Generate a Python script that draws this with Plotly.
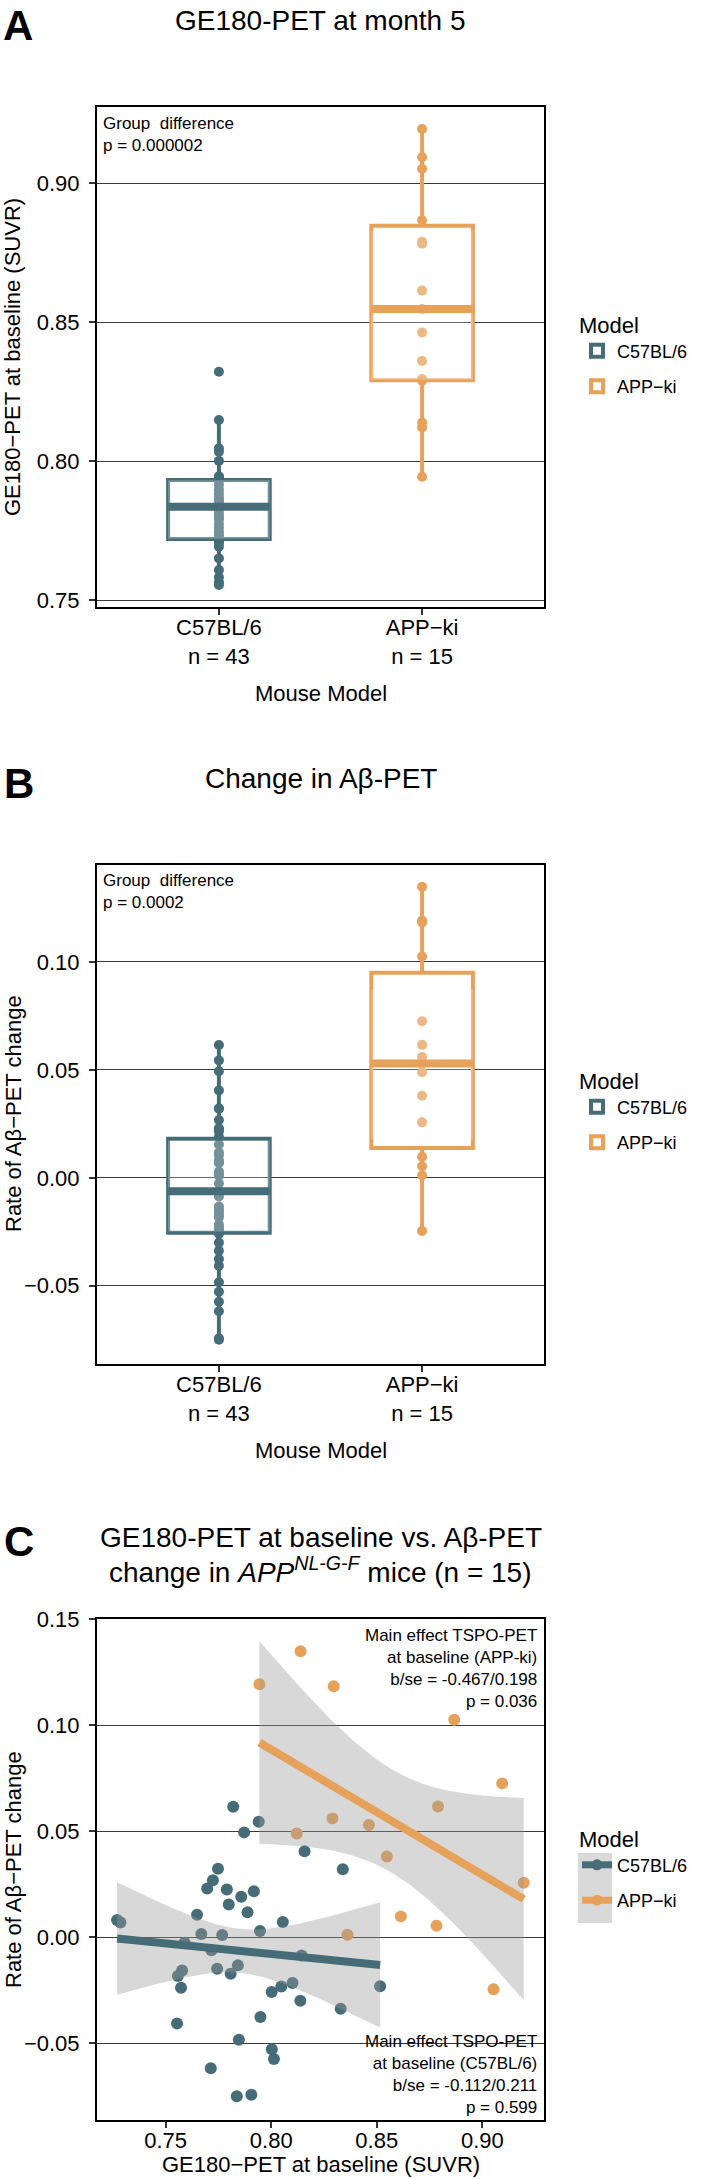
import numpy as np
import plotly.graph_objects as go

W, H = 709, 2179
FONT = "Liberation Sans, Arial, Helvetica, sans-serif"
TEAL = "#466d77"
ORANGE = "#e6a15b"
RIBBON = "rgba(153,153,153,0.38)"

# ---------------- data ----------------
models = ["C57BL/6", "APP\u2212ki"]
group_n = ["n = 43", "n = 15"]

# Panel A: GE180-PET (SUVR), C57BL/6
c57_tspo_month5 = [0.8322, 0.8148, 0.8046, 0.8034, 0.8001, 0.7946, 0.7942, 0.7940, 0.7938,
                   0.7936, 0.7933, 0.7930, 0.7915, 0.7898, 0.7884, 0.7870, 0.7862, 0.7855,
                   0.7850, 0.7845, 0.7840, 0.7836, 0.7830, 0.7822, 0.7810, 0.7800, 0.7790,
                   0.7775, 0.7760, 0.7745, 0.7733, 0.7724, 0.7718, 0.7716, 0.7714, 0.7710,
                   0.7705, 0.7692, 0.7650, 0.7608, 0.7582, 0.7564, 0.7554]

# APP-ki: GE180-PET at baseline and rate of Abeta-PET change (paired)
app_tspo = [0.7944, 0.8139, 0.8121, 0.8296, 0.8290, 0.8361, 0.8463, 0.8548, 0.8614,
            0.8783, 0.8790, 0.8867, 0.9053, 0.9094, 0.9196]
app_abeta_rate = [0.1192, 0.1348, 0.0489, 0.1183, 0.0560, 0.0011, 0.0529, 0.0380, 0.0098,
                  0.0054, 0.0616, 0.1025, -0.0246, 0.0725, 0.0257]

# C57BL/6: GE180-PET at baseline and rate of Abeta-PET change (paired, panel C / B)
c57_tspo_baseline = [0.7820, 0.7941, 0.7872, 0.7748, 0.7724, 0.7697, 0.7918, 0.7858, 0.7799,
                     0.7888, 0.7649, 0.8055, 0.7270, 0.7286, 0.7947, 0.7669, 0.7768, 0.8158,
                     0.8339, 0.7590, 0.7717, 0.8144, 0.7558, 0.7578, 0.7573, 0.7744, 0.7808,
                     0.7842, 0.8002, 0.8048, 0.8101, 0.8138, 0.8329, 0.8516, 0.7554, 0.7949,
                     0.7847, 0.8003, 0.8013, 0.7714, 0.7837, 0.7906, 0.7790]
c57_abeta_rate = [0.0615, 0.0544, 0.0494, 0.0322, 0.0268, 0.0229, 0.0216, 0.0190, 0.0154,
                  0.0117, 0.0106, 0.0072, 0.0081, 0.0069, 0.0029, 0.0015, 0.0010, 0.0405,
                  0.0320, -0.0026, -0.0062, -0.0086, -0.0183, -0.0157, -0.0239, -0.0149, -0.0172,
                  -0.0133, -0.0259, -0.0233, -0.0216, -0.0300, -0.0338, -0.0231, -0.0407, -0.0376,
                  -0.0484, -0.0528, -0.0574, -0.0618, -0.0750, -0.0743, 0.0225]

ticks_a = [0.75, 0.80, 0.85, 0.90]
ticks_b = [-0.05, 0.00, 0.05, 0.10]
ticks_cx = [0.75, 0.80, 0.85, 0.90]
ticks_cy = [-0.05, 0.00, 0.05, 0.10, 0.15]

t_crit = {41: 2.0195, 13: 2.1604}  # 95% t quantiles for lm CI


def fmt(v):
    s = f"{v:.2f}"
    return s.replace("-", "\u2212")


def px_x(p):
    return p / W


def px_y(p):
    return 1 - p / H


fig = go.Figure()

colors = [TEAL, ORANGE]
box_w = 0.5


def add_box_panel(ax, ay, values_list, legend_name):
    for i, (vals, col, name) in enumerate(zip(values_list, colors, models)):
        pos = i + 1
        vals = np.asarray(vals)
        fig.add_trace(go.Box(
            x=[pos] * len(vals), y=vals, xaxis=ax, yaxis=ay, width=box_w,
            line=dict(color=col, width=4), fillcolor="rgba(0,0,0,0)",
            boxpoints="outliers", marker=dict(opacity=0, size=1), whiskerwidth=0,
            name=name, legend=legend_name, legendgroup=legend_name + name,
            showlegend=True, hoverinfo="skip"))
    for i, (vals, col, name) in enumerate(zip(values_list, colors, models)):
        pos = i + 1
        vals = np.asarray(vals)
        fig.add_trace(go.Scatter(
            x=[pos] * len(vals), y=vals, xaxis=ax, yaxis=ay, mode="markers",
            marker=dict(size=10, color=col), showlegend=False, hoverinfo="skip"))
        q1, med, q3 = np.percentile(vals, [25, 50, 75])
        fig.add_trace(go.Scatter(
            x=[pos - box_w / 2, pos + box_w / 2, pos + box_w / 2, pos - box_w / 2, pos - box_w / 2],
            y=[q1, q1, q3, q3, q1], xaxis=ax, yaxis=ay, mode="lines", fill="toself",
            fillcolor="rgba(255,255,255,0.25)", line=dict(width=0),
            showlegend=False, hoverinfo="skip"))
        fig.add_trace(go.Scatter(
            x=[pos - box_w / 2, pos + box_w / 2], y=[med, med], xaxis=ax, yaxis=ay,
            mode="lines", line=dict(color=col, width=8), showlegend=False, hoverinfo="skip"))


add_box_panel("x", "y", [c57_tspo_month5, app_tspo], "legend")
add_box_panel("x2", "y2", [c57_abeta_rate, app_abeta_rate], "legend2")

# Panel C
groups = [(c57_tspo_baseline, c57_abeta_rate, TEAL, models[0]),
          (app_tspo, app_abeta_rate, ORANGE, models[1])]
for xs, ys, col, name in groups:
    fig.add_trace(go.Scatter(x=xs, y=ys, xaxis="x3", yaxis="y3", mode="markers",
                             marker=dict(size=12, color=col), showlegend=False,
                             hoverinfo="skip"))
fits = []
for xs, ys, col, name in groups:
    x = np.asarray(xs)
    y = np.asarray(ys)
    n = len(x)
    b1, b0 = np.polyfit(x, y, 1)
    grid = np.linspace(x.min(), x.max(), 80)
    yhat = b0 + b1 * grid
    resid = y - (b0 + b1 * x)
    s = np.sqrt(np.sum(resid ** 2) / (n - 2))
    sxx = np.sum((x - x.mean()) ** 2)
    se = s * np.sqrt(1 / n + (grid - x.mean()) ** 2 / sxx)
    t = t_crit[n - 2]
    lo, hi = yhat - t * se, yhat + t * se
    fits.append((grid, yhat, col))
    fig.add_trace(go.Scatter(x=np.concatenate([grid, grid[::-1]]),
                             y=np.concatenate([hi, lo[::-1]]),
                             xaxis="x3", yaxis="y3", mode="lines", fill="toself",
                             fillcolor=RIBBON, line=dict(width=0),
                             showlegend=False, hoverinfo="skip"))
for grid, yhat, col in fits:
    fig.add_trace(go.Scatter(x=grid, y=yhat, xaxis="x3", yaxis="y3", mode="lines",
                             line=dict(color=col, width=8), showlegend=False,
                             hoverinfo="skip"))
for xs, ys, col, name in groups:
    fig.add_trace(go.Scatter(x=[None], y=[None], xaxis="x3", yaxis="y3",
                             mode="lines+markers", line=dict(color=col, width=7),
                             marker=dict(size=11, color=col), name=name,
                             legend="legend3", legendgroup="c" + name, showlegend=True))

# ---------------- axes ----------------
XDOM = [px_x(97), px_x(544)]
axis_common = dict(showline=True, mirror=True, linecolor="black", linewidth=2,
                   ticks="outside", ticklen=6, tickwidth=2, tickcolor="#333333",
                   tickfont=dict(size=22, color="black", family=FONT), zeroline=False)
ygrid = dict(showgrid=True, gridcolor="#3a3a3a", gridwidth=1)

cat_text = [f"{m}<br>{n}" for m, n in zip(models, group_n)]

fig.update_layout(
    xaxis=dict(domain=XDOM, anchor="y", range=[0.4, 2.6], tickvals=[1, 2], ticktext=cat_text,
               showgrid=False, ticklabelstandoff=-6, **axis_common),
    yaxis=dict(domain=[px_y(607), px_y(107)], anchor="x", range=[0.7475, 0.9275],
               tickvals=ticks_a, ticktext=[fmt(v) for v in ticks_a], ticklabelstandoff=5,
               **ygrid, **axis_common),
    xaxis2=dict(domain=XDOM, anchor="y2", range=[0.4, 2.6], tickvals=[1, 2], ticktext=cat_text,
                showgrid=False, ticklabelstandoff=-6, **axis_common),
    yaxis2=dict(domain=[px_y(1363.5), px_y(865)], anchor="x2", range=[-0.0860, 0.1449],
                tickvals=ticks_b, ticktext=[fmt(v) for v in ticks_b], ticklabelstandoff=5,
                **ygrid, **axis_common),
    xaxis3=dict(domain=XDOM, anchor="y3", range=[0.7175, 0.9292], tickvals=ticks_cx,
                ticktext=[fmt(v) for v in ticks_cx], showgrid=False, ticklabelstandoff=-6,
                **axis_common),
    yaxis3=dict(domain=[px_y(2120), px_y(1619)], anchor="x3", range=[-0.0862, 0.1500],
                tickvals=ticks_cy, ticktext=[fmt(v) for v in ticks_cy], ticklabelstandoff=5,
                **ygrid, **axis_common),
)

legend_common = dict(xanchor="left", yanchor="top", x=px_x(577),
                     title=dict(text="Model", font=dict(size=22, color="black", family=FONT)),
                     font=dict(size=18, color="black", family=FONT),
                     bgcolor="rgba(0,0,0,0)", tracegroupgap=9, itemwidth=30)
fig.update_layout(
    legend=dict(y=px_y(304), **legend_common),
    legend2=dict(y=px_y(1060), **legend_common),
    legend3=dict(y=px_y(1818), **legend_common),
)

# grey key background for panel C legend (geom_smooth key)
fig.add_shape(type="rect", xref="paper", yref="paper", x0=px_x(578), x1=px_x(612),
              y0=px_y(1923), y1=px_y(1853), fillcolor="#d9d9d9", line=dict(width=0),
              layer="below")

# ---------------- annotations ----------------
ann = []
cx = px_x(320.5)


def add_text(text, x, y, size, xanchor="center", yanchor="middle", align="center", angle=0):
    ann.append(dict(text=text, x=x, y=y, xref="paper", yref="paper", showarrow=False,
                    xanchor=xanchor, yanchor=yanchor, align=align, textangle=angle,
                    font=dict(size=size, color="black", family=FONT)))


# panel letters
add_text("<b>A</b>", px_x(18), px_y(25.5), 42)
add_text("<b>B</b>", px_x(19), px_y(784), 42)
add_text("<b>C</b>", px_x(19), px_y(1541.5), 42)
# titles
add_text("GE180-PET at month 5", cx, px_y(21), 28)
add_text("Change in A\u03b2-PET", cx, px_y(778), 28)
add_text("GE180-PET at baseline vs. A\u03b2-PET", cx, px_y(1537), 28)
add_text("change in <i>APP<sup>NL-G-F</sup></i> mice (n = 15)", cx, px_y(1570), 28)
# axis titles
add_text("GE180\u2212PET at baseline (SUVR)", px_x(13), px_y(357), 22, angle=-90)
add_text("Rate of A\u03b2\u2212PET change", px_x(13), px_y(1114), 22, angle=-90)
add_text("Rate of A\u03b2\u2212PET change", px_x(13), px_y(1870), 22, angle=-90)
add_text("Mouse Model", cx, px_y(694), 22)
add_text("Mouse Model", cx, px_y(1450.5), 22)
add_text("GE180\u2212PET at baseline (SUVR)", cx, px_y(2179), 22, yanchor="bottom")
# statistics
add_text("Group  difference<br>p = 0.000002", px_x(101), px_y(112), 17,
         xanchor="left", yanchor="top", align="left")
add_text("Group  difference<br>p = 0.0002", px_x(101), px_y(869), 17,
         xanchor="left", yanchor="top", align="left")
add_text("Main effect TSPO-PET<br>at baseline (APP-ki)<br>b/se = -0.467/0.198<br>p = 0.036",
         px_x(539), px_y(1624), 17, xanchor="right", yanchor="top", align="right")
add_text("Main effect TSPO-PET<br>at baseline (C57BL/6)<br>b/se = -0.112/0.211<br>p = 0.599",
         px_x(539), px_y(2119), 17, xanchor="right", yanchor="bottom", align="right")

fig.update_layout(
    annotations=ann,
    width=W, height=H, template="none",
    margin=dict(l=0, r=0, t=0, b=0, pad=0),
    paper_bgcolor="white", plot_bgcolor="white",
    font=dict(family=FONT, color="black"),
    boxmode="overlay",
    hovermode=False,
)

fig.write_html("out.html", config={"displayModeBar": False},
               post_script="document.body.style.margin = '0px';")
